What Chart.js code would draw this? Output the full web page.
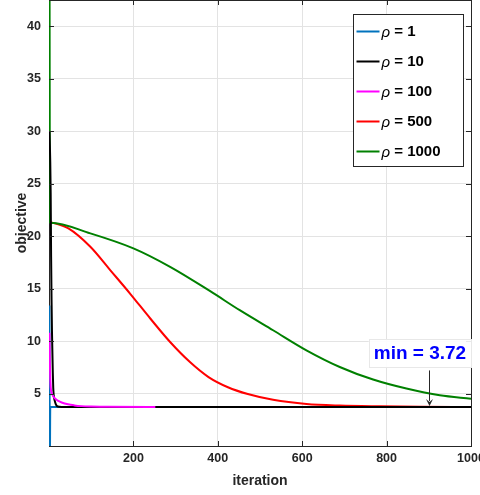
<!DOCTYPE html>
<html>
<head>
<meta charset="utf-8">
<script src="https://cdn.jsdelivr.net/npm/chart.js@4"></script>
<style>
  html, body { margin: 0; padding: 0; background: #fff; }
  #wrap { width: 480px; height: 495px; position: relative; }
</style>
</head>
<body>
<div id="wrap"><canvas id="objectiveChart"></canvas></div>
<script>
// Series values (iteration, objective)
const rhoValues = [1, 10, 100, 500, 1000];
const seriesColors = ['#0072BD', '#000000', '#FF00FF', '#FF0000', '#008000'];

const iterRho1 = [1, 2, 3, 1000];
const objRho1 = [13.4, -2, 3.72, 3.72];

const iterRho10 = [1, 3, 4, 5, 6, 7, 8, 9, 10, 11, 13, 16, 19, 25, 35, 1000];
const objRho10 = [30, 27, 24, 18, 14, 11, 9, 7, 5.6, 4.9, 4.4, 4.0, 3.8, 3.74, 3.72, 3.72];

const iterRho100 = [1, 2, 3, 4, 6, 10, 15, 22, 30, 45, 60, 77, 100, 140, 252];
const objRho100 = [10.8, 8, 6.4, 5.6, 5.1, 4.75, 4.5, 4.3, 4.15, 3.97, 3.87, 3.8, 3.76, 3.73, 3.72];

const iterRho500 = [1, 3, 46, 98, 145, 192, 240, 287, 334, 378, 424, 471, 531, 610, 689, 784, 880, 1000];
const objRho500 = [21.35, 21.33, 20.73, 18.98, 16.76, 14.53, 12.15, 9.91, 8.0, 6.57, 5.6, 4.95, 4.4, 4.0, 3.85, 3.78, 3.74, 3.72];

const iterRho1000 = [1, 2, 4, 98, 200, 287, 382, 452, 531, 610, 689, 768, 847, 926, 1000];
const objRho1000 = [60, 21.3, 21.28, 20.26, 18.83, 17.07, 14.75, 12.94, 11.03, 9.12, 7.53, 6.33, 5.47, 4.83, 4.51];

const xTicks = [200, 400, 600, 800, 1000];
const yTicks = [5, 10, 15, 20, 25, 30, 35, 40];

// annotation
const minValue = 3.72;
const arrowIter = 900;
const arrowTopValue = 7.2;
const labelIter = 879;
const labelValue = 8.86;

const axisColor = '#262626';
const fontFamily = "'Liberation Sans', Arial, Helvetica, sans-serif";

function toPoints(xs, ys) {
  return xs.map((x, i) => ({ x: x, y: ys[i] }));
}

const allIters = [iterRho1, iterRho10, iterRho100, iterRho500, iterRho1000];
const allObjs = [objRho1, objRho10, objRho100, objRho500, objRho1000];
const drawOrder = [4, 1, 0, 3, 2]; // lower = drawn on top

const datasets = rhoValues.map((rho, i) => ({
  label: 'ρ = ' + rho,
  data: toPoints(allIters[i], allObjs[i]),
  borderColor: seriesColors[i],
  backgroundColor: seriesColors[i],
  borderWidth: 2,
  pointRadius: 0,
  cubicInterpolationMode: 'monotone',
  fill: false,
  order: drawOrder[i]
}));

// Frame on top/right and inward tick marks
const framePlugin = {
  id: 'frame',
  afterDatasetsDraw(chart) {
    const { ctx, chartArea: a, scales } = chart;
    const x = scales.x, y = scales.y;
    ctx.save();
    ctx.strokeStyle = axisColor;
    ctx.lineWidth = 1;
    ctx.beginPath();
    ctx.moveTo(a.left, a.top + 0.5);
    ctx.lineTo(a.right + 0.5, a.top + 0.5);
    ctx.lineTo(a.right + 0.5, a.bottom);
    xTicks.forEach(v => {
      const px = Math.round(x.getPixelForValue(v)) + 0.5;
      ctx.moveTo(px, a.bottom);
      ctx.lineTo(px, a.bottom - 5);
      ctx.moveTo(px, a.top);
      ctx.lineTo(px, a.top + 5);
    });
    yTicks.forEach(v => {
      const py = Math.round(y.getPixelForValue(v)) + 0.5;
      ctx.moveTo(a.left, py);
      ctx.lineTo(a.left + 5, py);
      ctx.moveTo(a.right, py);
      ctx.lineTo(a.right - 5, py);
    });
    ctx.stroke();
    ctx.restore();
  }
};

// Legend box inside the axes + "min" annotation with arrow
const overlayPlugin = {
  id: 'overlay',
  afterDraw(chart) {
    const { ctx, chartArea: a, scales } = chart;
    const x = scales.x, y = scales.y;
    ctx.save();

    // legend
    const boxW = 110, boxH = 152;
    const boxL = Math.round(a.right - 8 - boxW) + 0.5;
    const boxT = Math.round(a.top + 14) + 0.5;
    ctx.fillStyle = '#fff';
    ctx.fillRect(boxL, boxT, boxW, boxH);
    ctx.strokeStyle = axisColor;
    ctx.lineWidth = 1;
    ctx.strokeRect(boxL, boxT, boxW, boxH);
    rhoValues.forEach((rho, i) => {
      const ly = boxT + 17 + i * 30;
      ctx.strokeStyle = seriesColors[i];
      ctx.lineWidth = 2;
      ctx.beginPath();
      ctx.moveTo(boxL + 3, ly);
      ctx.lineTo(boxL + 26, ly);
      ctx.stroke();
      ctx.fillStyle = '#000';
      ctx.textBaseline = 'middle';
      ctx.textAlign = 'left';
      ctx.font = 'italic 15px ' + fontFamily;
      ctx.fillText('ρ', boxL + 28, ly + 1);
      const rw = ctx.measureText('ρ').width;
      ctx.font = 'bold 15px ' + fontFamily;
      ctx.fillText(' = ' + rho, boxL + 28 + rw, ly);
    });

    // annotation label
    const text = 'min = ' + minValue.toFixed(2);
    ctx.font = 'bold 19px ' + fontFamily;
    const tw = ctx.measureText(text).width;
    const cx = x.getPixelForValue(labelIter);
    const cy = y.getPixelForValue(labelValue);
    ctx.fillStyle = 'rgba(255,255,255,0.9)';
    ctx.fillRect(cx - tw / 2 - 5, cy - 14, tw + 10, 28);
    ctx.strokeStyle = '#e8e8e8';
    ctx.lineWidth = 1;
    ctx.strokeRect(Math.round(cx - tw / 2 - 5) + 0.5, Math.round(cy - 14) + 0.5, Math.round(tw + 10), 28);
    ctx.fillStyle = '#0000FF';
    ctx.textAlign = 'center';
    ctx.textBaseline = 'middle';
    ctx.fillText(text, cx, cy + 1);

    // arrow
    const ax = Math.round(x.getPixelForValue(arrowIter)) + 0.5;
    const ay0 = y.getPixelForValue(arrowTopValue);
    const ay1 = y.getPixelForValue(minValue) - 1;
    ctx.strokeStyle = axisColor;
    ctx.fillStyle = axisColor;
    ctx.lineWidth = 1;
    ctx.beginPath();
    ctx.moveTo(ax, ay0);
    ctx.lineTo(ax, ay1 - 5);
    ctx.stroke();
    ctx.beginPath();
    ctx.moveTo(ax - 3.5, ay1 - 7);
    ctx.lineTo(ax, ay1 - 4);
    ctx.lineTo(ax + 3.5, ay1 - 7);
    ctx.lineTo(ax, ay1);
    ctx.closePath();
    ctx.fill();

    ctx.restore();
  }
};

const ctx = document.getElementById('objectiveChart').getContext('2d');
new Chart(ctx, {
  type: 'line',
  data: { datasets: datasets },
  options: {
    responsive: true,
    maintainAspectRatio: false,
    animation: false,
    layout: { padding: { top: 0, right: 9, bottom: 0, left: 0 } },
    plugins: {
      legend: { display: false },
      tooltip: { enabled: false }
    },
    scales: {
      x: {
        type: 'linear',
        min: 0,
        max: 1000,
        afterBuildTicks: scale => { scale.ticks = xTicks.map(v => ({ value: v })); },
        afterFit: scale => {
          scale.height = 49;
          scale.paddingRight = 0;
          scale.paddingLeft = 0;
        },
        grid: { color: '#e3e3e3', lineWidth: 1, drawTicks: false },
        border: { display: true, color: axisColor, width: 1 },
        ticks: {
          padding: 5,
          maxRotation: 0,
          autoSkip: false,
          color: axisColor,
          callback: v => String(v),
          font: { family: fontFamily, size: 12.5, weight: 'bold' }
        },
        title: {
          display: true,
          text: 'iteration',
          color: axisColor,
          padding: { top: 0, bottom: 5 },
          font: { family: fontFamily, size: 14, weight: 'bold' }
        }
      },
      y: {
        type: 'linear',
        min: 0,
        max: 42.5,
        afterBuildTicks: scale => { scale.ticks = yTicks.map(v => ({ value: v })); },
        afterFit: scale => {
          scale.width = 49;
          scale.paddingTop = 0;
          scale.paddingBottom = 0;
        },
        grid: { color: '#e3e3e3', lineWidth: 1, drawTicks: false },
        border: { display: true, color: axisColor, width: 1 },
        ticks: {
          padding: 8,
          autoSkip: false,
          color: axisColor,
          callback: v => String(v),
          font: { family: fontFamily, size: 12.5, weight: 'bold' }
        },
        title: {
          display: true,
          text: 'objective',
          color: axisColor,
          padding: { top: 14, bottom: 0 },
          font: { family: fontFamily, size: 14, weight: 'bold' }
        }
      }
    }
  },
  plugins: [framePlugin, overlayPlugin]
});
</script>
</body>
</html>
